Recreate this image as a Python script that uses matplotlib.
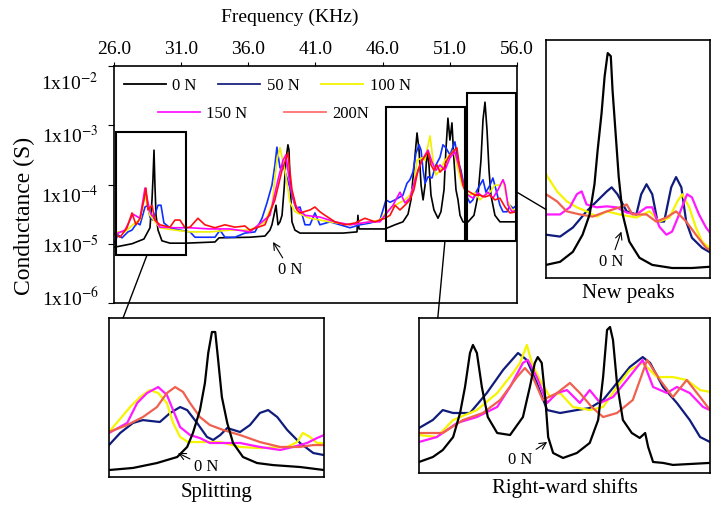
import numpy as np
import matplotlib
matplotlib.use('Agg')
from matplotlib import pyplot as plt
from matplotlib.lines import Line2D
from matplotlib.patches import Rectangle, ConnectionPatch
import matplotlib.transforms as mtransforms
from matplotlib.ticker import NullLocator

plt.rcParams['font.family'] = ['Liberation Serif', 'DejaVu Serif']
plt.rcParams['mathtext.fontset'] = 'stix'

loads = ['0 N', '50 N', '100 N', '150 N', '200N']
main_colors = ['#000000', '#1030ff', '#f0f000', '#ff00ff', '#ff1010']
inset_colors = ['#000000', '#101c7c', '#f5f500', '#ff1aff', '#f0604e']
legend_colors = ['#000000', '#1a237e', '#f5f500', '#ff1aff', '#ff7070']

# full sweep: frequency (kHz) and log10 of conductance (S)
f_0n = [26.00, 27.34, 28.23, 28.68, 28.83, 28.90, 28.98, 29.05, 29.13, 29.28,
        29.57, 30.17, 31.36, 33.52, 33.82, 36.12, 37.24, 37.61, 37.76, 37.91,
        38.06, 38.21, 38.36, 38.51, 38.66, 38.80, 38.95, 39.03, 39.10, 39.25,
        39.47, 39.85, 43.05, 44.09, 44.16, 44.24, 46.17, 46.92, 47.51, 47.89,
        48.11, 48.33, 48.56, 48.71, 48.86, 49.01, 49.16, 49.30, 49.45, 49.60,
        49.82, 50.12, 50.34, 50.57, 50.71, 50.86, 51.01, 51.16, 51.31, 51.46,
        51.61, 51.76, 51.98, 52.28, 52.80, 53.10, 53.32, 53.47, 53.62, 53.77,
        53.92, 54.06, 54.36, 54.73, 56.00]
g_0n = [-5.06, -5.00, -4.92, -4.73, -4.26, -3.92, -3.42, -4.01, -4.52, -4.77,
        -4.95, -4.99, -4.99, -4.97, -4.90, -4.89, -4.87, -4.77, -4.68, -4.52,
        -4.35, -4.68, -4.63, -4.52, -4.09, -3.59, -3.33, -3.42, -3.92, -4.63,
        -4.77, -4.82, -4.82, -4.80, -4.52, -4.75, -4.75, -4.68, -4.63, -4.50,
        -4.26, -3.72, -3.13, -3.42, -4.01, -4.26, -4.01, -3.42, -3.67, -4.18,
        -4.43, -4.57, -4.46, -4.09, -3.42, -2.88, -3.25, -2.96, -3.59, -4.09,
        -4.26, -4.52, -4.63, -4.65, -4.52, -4.18, -3.59, -2.91, -2.61, -3.08,
        -3.76, -4.18, -4.52, -4.63, -4.63]

f_50n = [26.00, 26.30, 26.60, 27.04, 27.34, 27.71, 27.94, 28.31, 28.53, 28.68,
         28.90, 29.28, 29.50, 29.72, 30.17, 30.91, 31.66, 32.03, 33.15, 33.52,
         33.89, 34.26, 35.01, 35.75, 36.50, 37.02, 37.39, 37.76, 37.98, 38.13,
         38.36, 38.58, 38.88, 39.25, 39.55, 39.85, 40.22, 40.59, 40.96, 41.33,
         42.08, 42.82, 43.57, 44.31, 45.06, 45.80, 46.25, 46.55, 46.92, 47.29,
         47.51, 47.81, 48.03, 48.26, 48.48, 48.71, 48.86, 49.01, 49.16, 49.38,
         49.67, 49.97, 50.27, 50.49, 50.71, 51.01, 51.38, 51.61, 51.83, 52.05,
         52.28, 52.50, 52.72, 52.95, 53.24, 53.47, 53.69, 53.99, 54.21, 54.44,
         54.73, 54.96, 55.26, 55.48, 55.70, 56.00]
g_50n = [-4.99, -4.85, -4.90, -4.80, -4.77, -4.65, -4.68, -4.38, -4.35, -4.55,
         -4.60, -4.35, -4.35, -4.65, -4.73, -4.77, -4.80, -4.89, -4.89, -4.89,
         -4.77, -4.89, -4.89, -4.82, -4.80, -4.57, -4.31, -4.01, -3.67, -3.37,
         -3.72, -3.67, -3.89, -4.18, -4.40, -4.38, -4.68, -4.68, -4.48, -4.68,
         -4.63, -4.68, -4.73, -4.68, -4.65, -4.60, -4.26, -4.30, -4.26, -4.21,
         -4.18, -3.98, -3.92, -3.79, -3.47, -3.33, -3.42, -3.76, -3.98, -3.87,
         -3.89, -3.67, -3.54, -3.33, -3.38, -3.50, -3.28, -3.59, -3.76, -4.01,
         -4.21, -4.31, -4.26, -4.13, -4.01, -3.92, -4.13, -4.01, -3.89, -4.09,
         -4.35, -4.46, -4.46, -4.35, -4.40, -4.35]

f_100n = [26.00, 26.82, 27.56, 27.94, 28.31, 28.68, 29.42, 30.54, 31.66, 33.15,
          34.64, 36.12, 37.24, 37.76, 38.13, 38.36, 38.73, 39.10, 39.47, 40.59,
          42.08, 43.57, 45.06, 45.80, 46.40, 46.92, 47.66, 48.03, 48.33, 48.56,
          48.93, 49.16, 49.30, 49.53, 49.75, 49.97, 50.27, 50.64, 51.01, 51.31,
          51.53, 51.91, 52.20, 52.50, 52.87, 53.24, 53.62, 53.99, 54.36, 54.73,
          54.96, 55.26, 55.63, 56.00]
g_100n = [-4.80, -4.80, -4.65, -4.60, -4.18, -4.52, -4.73, -4.77, -4.80, -4.80,
          -4.77, -4.77, -4.63, -4.35, -3.59, -3.38, -3.76, -4.30, -4.46, -4.57,
          -4.63, -4.68, -4.63, -4.60, -4.43, -4.35, -4.26, -4.18, -4.01, -3.59,
          -3.55, -3.59, -3.42, -3.18, -3.59, -3.84, -3.76, -3.59, -3.50, -3.42,
          -3.67, -4.01, -4.14, -4.18, -4.14, -4.26, -4.18, -4.13, -4.01, -4.01,
          -3.92, -4.26, -4.43, -4.43]

f_150n = [26.00, 26.82, 27.41, 27.94, 28.31, 28.68, 29.42, 30.54, 31.66, 33.15,
          34.64, 36.12, 37.61, 38.21, 38.58, 38.80, 39.10, 39.47, 40.22, 41.33,
          42.45, 43.57, 45.06, 45.80, 46.17, 46.77, 47.29, 47.66, 48.03, 48.41,
          48.78, 49.16, 49.38, 49.67, 49.97, 50.27, 50.64, 51.01, 51.38, 51.76,
          52.05, 52.35, 52.72, 53.10, 53.47, 53.84, 54.21, 54.59, 54.96, 55.11,
          55.33, 55.63, 56.00]
g_150n = [-4.85, -4.77, -4.50, -4.57, -4.06, -4.46, -4.72, -4.73, -4.73, -4.75,
          -4.75, -4.80, -4.52, -3.92, -3.59, -3.50, -4.01, -4.35, -4.52, -4.55,
          -4.63, -4.68, -4.63, -4.63, -4.52, -4.35, -4.13, -4.31, -4.23, -3.92,
          -3.67, -3.50, -3.42, -3.62, -3.76, -3.67, -3.76, -3.55, -3.45, -3.76,
          -4.06, -4.18, -4.23, -4.14, -4.21, -4.13, -4.23, -4.09, -3.92, -4.01,
          -4.35, -4.46, -4.43]

f_200n = [26.00, 26.45, 26.97, 27.34, 27.64, 27.94, 28.23, 28.38, 28.53, 28.83,
          29.05, 29.42, 30.17, 30.54, 30.91, 31.29, 31.66, 32.25, 32.77, 33.52,
          34.26, 35.01, 35.75, 36.12, 37.24, 37.98, 38.51, 38.95, 39.25, 39.62,
          39.85, 40.59, 40.96, 41.33, 41.71, 42.45, 43.20, 43.94, 44.68, 45.43,
          46.17, 46.55, 46.92, 47.29, 47.66, 48.03, 48.33, 48.63, 48.93, 49.38,
          49.60, 49.82, 50.05, 50.27, 50.57, 50.79, 51.01, 51.53, 51.76, 51.98,
          52.20, 52.50, 52.87, 53.24, 53.62, 53.99, 54.36, 54.73, 55.11, 55.48,
          56.00]
g_200n = [-4.82, -4.89, -4.73, -4.48, -4.68, -4.57, -4.26, -4.06, -4.43, -4.35,
          -4.60, -4.68, -4.72, -4.60, -4.60, -4.73, -4.72, -4.57, -4.68, -4.73,
          -4.68, -4.72, -4.70, -4.77, -4.68, -4.26, -3.76, -3.47, -4.09, -4.43,
          -4.48, -4.43, -4.38, -4.46, -4.52, -4.63, -4.68, -4.65, -4.57, -4.63,
          -4.57, -4.52, -4.35, -4.43, -4.35, -4.26, -4.09, -3.76, -3.59, -3.45,
          -3.67, -3.76, -3.67, -3.79, -3.72, -3.59, -3.50, -3.38, -3.76, -4.01,
          -4.09, -4.13, -4.18, -4.18, -4.21, -4.18, -4.26, -4.23, -4.38, -4.48,
          -4.46]

# zoomed windows: (f_lo, f_hi, log10 G lo, log10 G hi)
split_window = (26.15, 31.36, -5.19, -3.11)
shift_window = (46.25, 52.13, -4.95, -2.69)
peak_window = (52.28, 55.93, -4.95, -2.46)

# "Splitting" inset: frequency (kHz), relative level (% of panel height)
split_f_0n = [26.20, 26.78, 27.36, 27.85, 28.09, 28.23, 28.40, 28.52, 28.60, 28.69,
              28.77, 28.84, 28.93, 29.06, 29.20, 29.44, 29.78, 30.17, 30.82, 31.40]
split_v_0n = [4.4, 5.7, 8.8, 12.6, 18.9, 27.7, 42.1, 59.1, 78.0, 91.2,
              91.2, 73.6, 50.3, 34.0, 21.4, 12.6, 8.8, 7.5, 6.3, 4.4]
split_f_50n = [26.20, 26.47, 26.78, 27.02, 27.43, 27.68, 27.92, 28.09, 28.33, 28.57, 28.72,
               28.89, 29.06, 29.37, 29.61, 29.85, 30.05, 30.27, 30.51, 30.82, 31.14, 31.40]
split_v_50n = [20.1, 27.7, 34.0, 35.8, 34.6, 40.3, 44.0, 42.1, 34.0, 25.2, 23.3,
               26.4, 30.8, 28.3, 32.7, 40.3, 42.1, 37.7, 29.6, 21.4, 15.1, 13.8]
split_f_100n = [26.20, 26.71, 26.95, 27.19, 27.39, 27.60, 27.75, 27.92, 28.11, 28.40,
                28.89, 29.37, 29.85, 30.51, 30.75, 30.89, 31.06, 31.23, 31.40]
split_v_100n = [28.3, 44.0, 50.3, 54.7, 52.8, 46.5, 34.0, 25.2, 22.0, 22.0,
                22.0, 18.9, 18.2, 18.9, 22.0, 27.7, 25.2, 21.4, 21.4]
split_f_150n = [26.20, 26.64, 26.88, 27.12, 27.39, 27.60, 27.72, 27.92, 28.16, 28.40,
                28.64, 28.89, 29.37, 29.85, 30.34, 30.65, 30.99, 31.23, 31.40]
split_v_150n = [27.7, 34.0, 46.5, 52.8, 56.6, 51.6, 44.0, 31.4, 26.4, 24.5,
                21.4, 21.4, 21.4, 18.9, 17.0, 18.9, 21.4, 24.5, 26.4]
split_f_200n = [26.20, 26.64, 27.02, 27.36, 27.60, 27.80, 27.99, 28.16, 28.40,
                28.64, 28.96, 29.37, 29.85, 30.34, 30.82, 31.14, 31.40]
split_v_200n = [28.3, 32.7, 37.7, 44.0, 52.8, 56.6, 53.5, 46.5, 37.7,
                32.7, 29.6, 26.4, 22.0, 18.9, 18.9, 20.1, 20.1]

# "Right-ward shifts" inset
shift_f_0n = [46.25, 46.53, 46.73, 46.94, 47.08, 47.18, 47.28, 47.34, 47.42, 47.52,
              47.64, 47.83, 48.09, 48.35, 48.49, 48.59, 48.65, 48.73, 48.80, 48.86,
              48.96, 49.16, 49.44, 49.70, 49.87, 49.97, 50.05, 50.11, 50.17, 50.25,
              50.37, 50.55, 50.71, 50.82, 50.88, 50.98, 51.18, 51.38, 52.13]
shift_v_0n = [7.1, 10.3, 14.8, 23.2, 38.7, 55.5, 77.4, 82.6, 77.4, 55.5,
              36.1, 25.8, 24.5, 36.1, 55.5, 71.0, 74.8, 71.0, 49.0, 23.2,
              12.9, 9.7, 12.9, 19.4, 34.2, 61.9, 92.3, 94.2, 85.8, 58.1,
              34.2, 25.8, 22.6, 25.8, 16.8, 7.1, 6.5, 5.2, 6.5]
shift_f_50n = [46.25, 46.53, 46.73, 46.94, 47.28, 47.62, 47.95, 48.25, 48.43, 48.63, 48.84, 49.10,
               49.44, 49.70, 49.97, 50.25, 50.51, 50.77, 50.92, 51.18, 51.46, 51.72, 51.93, 52.13]
shift_v_50n = [29.0, 34.2, 40.6, 38.7, 38.7, 51.6, 66.5, 77.4, 72.9, 58.1, 40.6, 38.7,
               40.6, 41.9, 47.1, 58.1, 68.4, 74.8, 71.0, 55.5, 45.2, 34.2, 23.2, 20.0]
shift_f_100n = [46.25, 46.61, 46.94, 47.42, 47.83, 48.15, 48.29, 48.43, 48.53, 48.69, 48.90, 49.10,
                49.36, 49.70, 49.97, 50.25, 50.51, 50.77, 51.06, 51.38, 51.66, 51.93, 52.13]
shift_v_100n = [24.5, 23.2, 34.2, 40.6, 51.6, 64.5, 71.0, 82.6, 71.0, 60.0, 49.0, 51.6,
                42.6, 40.6, 42.6, 55.5, 66.5, 71.0, 61.9, 61.9, 60.0, 53.5, 52.3]
shift_f_150n = [46.25, 46.61, 47.02, 47.42, 47.83, 48.09, 48.35, 48.45, 48.63, 48.84, 49.04, 49.24,
                49.50, 49.70, 49.91, 50.17, 50.45, 50.77, 50.98, 51.26, 51.46, 51.72, 51.99, 52.13]
shift_v_150n = [20.0, 23.2, 32.3, 36.1, 42.6, 55.5, 71.0, 72.9, 61.9, 45.2, 51.6, 53.5,
                45.2, 53.5, 45.2, 49.0, 60.0, 72.9, 55.5, 51.6, 55.5, 51.6, 42.6, 40.6]
shift_f_200n = [46.25, 46.73, 47.14, 47.54, 47.89, 48.23, 48.39, 48.55, 48.75, 49.04, 49.30,
                49.50, 49.74, 49.97, 50.25, 50.57, 50.86, 51.12, 51.38, 51.66, 51.93, 52.13]
shift_v_200n = [25.8, 25.8, 34.2, 38.7, 47.1, 61.9, 67.7, 61.9, 47.1, 51.6, 58.1,
                51.6, 42.6, 36.1, 38.7, 47.1, 72.9, 60.0, 49.0, 60.0, 49.0, 40.6]

# "New peaks" inset
peak_f_0n = [52.28, 52.60, 52.89, 53.11, 53.27, 53.38, 53.45, 53.54, 53.61, 53.68, 53.75,
             53.79, 53.86, 53.93, 54.02, 54.17, 54.40, 54.69, 55.14, 55.59, 55.98]
peak_v_0n = [5.5, 6.8, 11.0, 18.2, 26.7, 39.4, 53.4, 69.1, 84.7, 94.5, 93.2,
             78.8, 60.6, 42.4, 26.7, 15.3, 8.5, 5.5, 4.2, 4.2, 4.7]
peak_f_50n = [52.28, 52.60, 52.89, 53.20, 53.43, 53.66, 53.77, 53.90, 54.11, 54.33, 54.44,
              54.56, 54.69, 54.81, 54.96, 55.12, 55.23, 55.35, 55.46, 55.59, 55.82, 55.98]
peak_v_50n = [18.2, 17.4, 21.2, 28.0, 32.2, 36.4, 38.1, 35.2, 28.0, 26.7, 35.2,
              39.4, 35.2, 23.7, 23.7, 38.1, 42.4, 38.1, 23.7, 16.9, 12.7, 11.0]
peak_f_100n = [52.28, 52.53, 52.75, 52.98, 53.20, 53.43, 53.66, 53.95, 54.33,
               54.63, 54.85, 55.08, 55.26, 55.37, 55.53, 55.68, 55.82, 55.98]
peak_v_100n = [43.6, 36.4, 32.2, 29.7, 28.0, 25.8, 28.0, 26.7, 25.4,
               28.0, 23.7, 25.4, 32.2, 35.2, 29.7, 21.2, 15.3, 12.7]
peak_f_150n = [52.28, 52.60, 52.82, 52.98, 53.09, 53.20, 53.43, 53.66, 53.88, 54.11, 54.33,
               54.56, 54.69, 54.85, 55.01, 55.14, 55.30, 55.48, 55.59, 55.75, 55.91, 55.98]
peak_v_150n = [26.7, 26.7, 29.7, 35.2, 36.4, 30.9, 29.7, 30.1, 29.7, 27.5, 26.7,
               29.7, 29.7, 21.6, 18.2, 19.5, 26.7, 35.2, 33.9, 26.7, 21.2, 19.5]
peak_f_200n = [52.28, 52.53, 52.75, 53.05, 53.34, 53.66, 53.95, 54.11, 54.24,
               54.56, 54.78, 55.01, 55.23, 55.46, 55.68, 55.91, 55.98]
peak_v_200n = [35.2, 32.2, 28.0, 26.7, 25.8, 28.0, 29.7, 30.9, 26.7,
               26.7, 23.7, 25.4, 28.0, 23.7, 18.2, 12.7, 11.9]


def draw_inset(rect, xs, ys, xlim, label, note_xy, note_text_xy):
    iax = fig.add_axes(rect)
    # black last so the unloaded peak sits on top
    for i in [1, 2, 3, 4, 0]:
        iax.plot(xs[i], ys[i], color=inset_colors[i], lw=1.6, solid_joinstyle='round')
    iax.set_xlim(*xlim)
    iax.set_ylim(0, 100)
    iax.set_xticks([])
    iax.set_yticks([])
    for sp in iax.spines.values():
        sp.set_linewidth(1.2)
    iax.set_xlabel(label, fontsize=15, labelpad=4)
    iax.annotate('0 N', xy=note_xy, xytext=note_text_xy, fontsize=12,
                 ha='center', va='center',
                 arrowprops=dict(arrowstyle='->', lw=0.8, color='black',
                                 shrinkA=1, shrinkB=0))
    return iax


fig = plt.figure(figsize=(7.11, 5.05), dpi=100)

ax = fig.add_axes([0.1603, 0.4, 0.5668, 0.4693])
main_f = [f_0n, f_50n, f_100n, f_150n, f_200n]
main_g = [g_0n, g_50n, g_100n, g_150n, g_200n]
for f, g, c in zip(main_f, main_g, main_colors):
    ax.plot(f, 10 ** np.array(g), color=c, lw=1.2)

ax.set_yscale('log')
ax.set_ylim(1e-6, 1e-2)
ax.set_xlim(26, 56)
ax.xaxis.tick_top()
ax.set_xticks(np.arange(26, 57, 5))
ax.set_xticklabels([f'{v:.1f}' for v in np.arange(26, 57, 5)])
ax.tick_params(axis='x', top=True, bottom=False, direction='out',
               length=3, pad=3, labelsize=14)
ax.set_yticks([1e-2, 1e-3, 1e-4, 1e-5, 1e-6])
ax.set_yticklabels([r'1x10$^{-%d}$' % k for k in [2, 3, 4, 5, 6]])
ax.yaxis.set_minor_locator(NullLocator())
ax.tick_params(axis='y', direction='out', length=4, pad=7, labelsize=14)
# the original labels sit a little off their ticks, more so at the top
for lab, dy in zip(ax.get_yticklabels(), [11, 6, 7, 0.5, -4.5]):
    lab.set_transform(lab.get_transform() + mtransforms.ScaledTranslation(
        0, -dy / 72, fig.dpi_scale_trans))
for sp in ax.spines.values():
    sp.set_linewidth(1.2)

fig.text(0.408, 0.966, 'Frequency (KHz)', fontsize=14, ha='center', va='center')
fig.text(0.034, 0.572, 'Conductance (S)', fontsize=17, rotation=90,
         ha='center', va='center')

handles = [Line2D([], [], color=c, lw=1.3) for c in legend_colors]
leg1 = ax.legend(handles[:3], loads[:3], ncol=3, loc='center left',
                 bbox_to_anchor=(0.025, 0.915), frameon=False, fontsize=12,
                 handlelength=2.5, handletextpad=0.4, columnspacing=1.3,
                 borderpad=0, borderaxespad=0)
ax.add_artist(leg1)
ax.legend(handles[3:], loads[3:], ncol=2, loc='center left',
          bbox_to_anchor=(0.109, 0.797), frameon=False, fontsize=12,
          handlelength=2.5, handletextpad=0.4, columnspacing=2.2,
          borderpad=0, borderaxespad=0)

for w in [split_window, shift_window, peak_window]:
    ax.add_patch(Rectangle((w[0], 10 ** w[2]), w[1] - w[0],
                           10 ** w[3] - 10 ** w[2], fill=False,
                           ec='black', lw=1.5, clip_on=False, zorder=5))

ax.annotate('0 N', xy=(37.84, 10 ** -4.97), xytext=(39.1, 10 ** -5.44),
            fontsize=12, ha='center', va='center',
            arrowprops=dict(arrowstyle='->', lw=0.8, color='black',
                            shrinkA=1, shrinkB=0))

ax_split = draw_inset([0.1533, 0.0554, 0.3024, 0.3149],
                      [split_f_0n, split_f_50n, split_f_100n, split_f_150n, split_f_200n],
                      [split_v_0n, split_v_50n, split_v_100n, split_v_150n, split_v_200n],
                      (26.2, 31.4), 'Splitting', (27.87, 15.1), (28.55, 6.3))
ax_shift = draw_inset([0.5893, 0.0634, 0.4093, 0.3069],
                      [shift_f_0n, shift_f_50n, shift_f_100n, shift_f_150n, shift_f_200n],
                      [shift_v_0n, shift_v_50n, shift_v_100n, shift_v_150n, shift_v_200n],
                      (46.25, 52.13), 'Right-ward shifts', (48.84, 20.0), (48.29, 8.4))
ax_peak = draw_inset([0.7679, 0.4495, 0.2307, 0.4713],
                     [peak_f_0n, peak_f_50n, peak_f_100n, peak_f_150n, peak_f_200n],
                     [peak_v_0n, peak_v_50n, peak_v_100n, peak_v_150n, peak_v_200n],
                     (52.28, 56.0), 'New peaks', (53.99, 19.5), (53.75, 6.8))

# lines joining each window to its zoomed panel
links = [(ax_split, (28.46, 10 ** split_window[2]), (26.54, 100)),
         (ax_shift, (50.64, 10 ** shift_window[2]), (46.63, 100)),
         (ax_peak, (56.0, 10 ** -4.13), (52.28, 28.8))]
for iax, xy_main, xy_inset in links:
    con = ConnectionPatch(xyA=xy_main, coordsA=ax.transData,
                          xyB=xy_inset, coordsB=iax.transData,
                          color='black', lw=1.0)
    fig.add_artist(con)

fig.savefig('out.png', dpi=100)
